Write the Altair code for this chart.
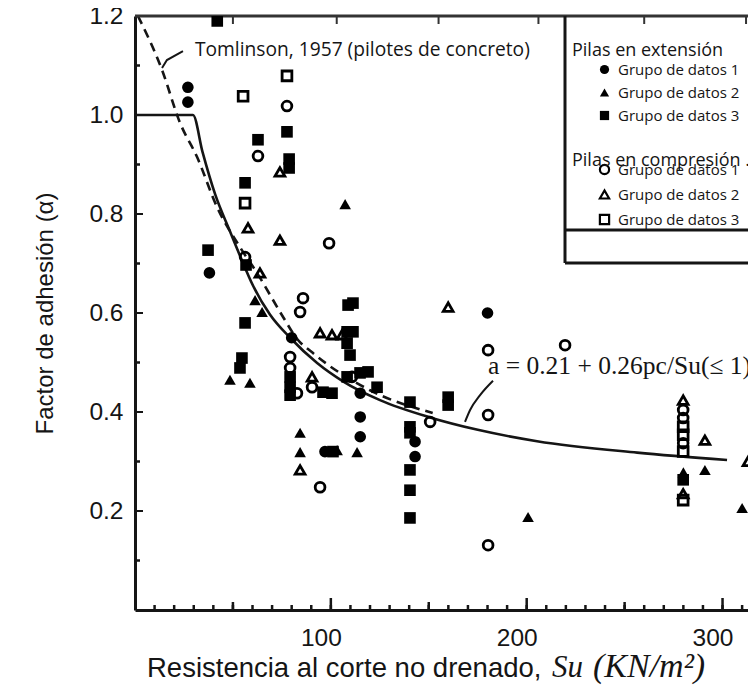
import altair as alt
import pandas as pd

# ---------------- data ----------------
groups = ["Grupo de datos 1", "Grupo de datos 2", "Grupo de datos 3"]

# Pilas en extension (filled markers)
ext1_su = [27, 27, 38, 80, 115, 115, 115, 97, 143, 143, 180]
ext1_a = [1.056, 1.026, 0.681, 0.55, 0.438, 0.39, 0.35, 0.32, 0.34, 0.31, 0.60]
ext2_su = [107.3, 61.3, 64.9, 48.5, 58.7, 84.3, 84.3, 113.4, 103.2, 200.7, 280, 291, 310]
ext2_a = [0.82, 0.626, 0.602, 0.465, 0.459, 0.358, 0.319, 0.319, 0.323, 0.188, 0.278, 0.283, 0.206]
ext3_su = [42, 77.6, 62.8, 78.7, 78.7, 56.2, 37.3, 56.7, 56.2, 108.8, 111.3, 108.3,
           111.3, 108.3, 109.8, 79.2, 79.2, 79.2, 96, 100.6, 108.3, 114.9, 119, 123.6,
           54.6, 53.6, 101.1, 159.9, 159.9, 140.4, 140.4, 140.4, 140.4, 140.4, 140.4, 279.9]
ext3_a = [1.19, 0.966, 0.95, 0.911, 0.893, 0.863, 0.727, 0.697, 0.58, 0.616, 0.62, 0.562,
          0.562, 0.539, 0.515, 0.471, 0.45, 0.434, 0.44, 0.438, 0.471, 0.479, 0.481, 0.45,
          0.509, 0.489, 0.32, 0.43, 0.414, 0.42, 0.37, 0.358, 0.283, 0.242, 0.186, 0.263]

# Pilas en compresion (open markers)
comp1_su = [77.6, 62.8, 99.1, 56.2, 85.8, 84.3, 79.2, 79.2, 82.7, 90.4, 110.8, 94.5,
            180.3, 219.6, 180.3, 150.7, 180.3, 279.9, 279.9, 279.9]
comp1_a = [1.018, 0.917, 0.741, 0.713, 0.63, 0.602, 0.511, 0.489, 0.438, 0.45, 0.471, 0.248,
           0.525, 0.535, 0.394, 0.38, 0.131, 0.404, 0.388, 0.337]
comp2_su = [74, 57.7, 74, 63.8, 94.5, 100.6, 105.7, 90.4, 84.3, 159.9, 279.9, 279.9, 291, 313]
comp2_a = [0.885, 0.772, 0.747, 0.681, 0.56, 0.556, 0.556, 0.471, 0.283, 0.612, 0.424, 0.235, 0.343, 0.30]
comp3_su = [77.6, 55.2, 56.2, 279.9, 279.9, 279.9, 279.9]
comp3_a = [1.079, 1.038, 0.822, 0.37, 0.354, 0.32, 0.222]

# curves
alpha_su = [0, 29.6, 34.5, 40.9, 48.5, 54, 60.3, 68.9, 79.2, 93.0, 106.2, 125.1,
            150.7, 175, 205.3, 256.4, 302.3]
alpha_a = [1.0, 1.0, 0.925, 0.84, 0.765, 0.712, 0.655, 0.597, 0.550, 0.499, 0.462, 0.424,
           0.389, 0.364, 0.341, 0.318, 0.303]
toml_su = [1.5, 13.8, 23.0, 31.7, 41.9, 53.6, 62.3, 75.6, 82.7, 90.9, 120, 152]
toml_a = [1.2, 1.091, 0.984, 0.915, 0.814, 0.733, 0.681, 0.592, 0.548, 0.519, 0.444, 0.398]

# axis ticks
x_labels = [100, 200, 300]
x_minor = [v for v in range(10, 320, 10)]
x_mid = [50, 150, 250]
x_top = [50, 103, 155, 206, 260, 312]
y_labels = [0.2, 0.4, 0.6, 0.8, 1.0, 1.2]
y_minor = [0.1, 0.3, 0.5, 0.7, 0.9, 1.1]

# ---------------- chart ----------------
FONT = "Liberation Sans"
INK = "#151515"
XS = alt.Scale(domain=[0, 313], nice=False, zero=False)
YS = alt.Scale(domain=[0, 1.2], nice=False, zero=False)
W, H = 613, 594


def pts(su, a, g):
    return pd.DataFrame({"su": su, "a": a, "grupo": g})


ext_df = pd.concat([pts(ext1_su, ext1_a, groups[0]), pts(ext2_su, ext2_a, groups[1]),
                    pts(ext3_su, ext3_a, groups[2])])
comp_df = pd.concat([pts(comp1_su, comp1_a, groups[0]), pts(comp2_su, comp2_a, groups[1]),
                     pts(comp3_su, comp3_a, groups[2])])
shape_scale = alt.Scale(domain=groups, range=["circle", "triangle-up", "square"])

x_axis = alt.Axis(values=x_labels, format="d", labelFont=FONT, labelFontSize=24.5, labelColor=INK,
                  tickSize=0, labelPadding=16, labelOffset=-10, domainWidth=3, domainColor=INK,
                  grid=False, title=None)
y_axis = alt.Axis(values=y_labels, format=".1f", labelFont=FONT, labelFontSize=24.5, labelColor=INK,
                  tickSize=0, labelPadding=12, domainWidth=3, domainColor=INK, grid=False,
                  title="Factor de adhesión (α)", titleFont=FONT, titleFontSize=24,
                  titleFontWeight="normal", titleColor=INK, titlePadding=31)


def X(f):
    return alt.X(f, scale=XS, axis=x_axis)


def Y(f):
    return alt.Y(f, scale=YS, axis=y_axis)


alpha_line = alt.Chart(pd.DataFrame({"su": alpha_su, "a": alpha_a})).mark_line(
    color=INK, strokeWidth=2.6, interpolate="monotone"
).encode(x=X("su:Q"), y=Y("a:Q"))

toml_line = alt.Chart(pd.DataFrame({"su": toml_su, "a": toml_a})).mark_line(
    color=INK, strokeWidth=2.6, strokeDash=[9, 6], interpolate="monotone", clip=True
).encode(x=X("su:Q"), y=Y("a:Q"))

common_leg = dict(orient="none", titleFont="Open Sans", titleFontSize=18, titleFontWeight="normal",
                  titleColor=INK, labelFont="Open Sans", labelFontSize=15, labelColor=INK,
                  symbolSize=85, symbolOffset=25, labelOffset=6, rowPadding=7, labelLimit=300)

ext_pts = alt.Chart(ext_df).mark_point(
    filled=True, color="black", opacity=1, size=135, clip=True
).encode(
    x=X("su:Q"), y=Y("a:Q"),
    shape=alt.Shape("grupo:N", scale=shape_scale, legend=alt.Legend(
        title="Pilas en extensión", legendX=437, legendY=26, titlePadding=2,
        symbolFillColor="black", symbolStrokeColor="black", symbolStrokeWidth=0, **common_leg))
)

comp_pts = alt.Chart(comp_df).mark_point(
    filled=False, color="black", strokeWidth=2.8, opacity=1, size=95, clip=True
).encode(
    x=X("su:Q"), y=Y("a:Q"),
    shape=alt.Shape("grupo:N", scale=shape_scale, legend=alt.Legend(
        title="Pilas en compresión .", legendX=437, legendY=136, titlePadding=-8,
        symbolStrokeColor="black", symbolStrokeWidth=2.2, **common_leg))
)

# tick marks drawn inward from the tick arrays
yt_major = alt.Chart(pd.DataFrame({"v": y_labels[:-1]})).mark_rule(color=INK, strokeWidth=2).encode(
    y=Y("v:Q"), x=alt.value(0), x2=alt.value(8))
yt_minor = alt.Chart(pd.DataFrame({"v": y_minor})).mark_rule(color=INK, strokeWidth=2.5).encode(
    y=Y("v:Q"), x=alt.value(0), x2=alt.value(5))
xt_minor = alt.Chart(pd.DataFrame({"v": x_minor})).mark_rule(color=INK, strokeWidth=2.5).encode(
    x=X("v:Q"), y=alt.value(H), y2=alt.value(H - 5))
xt_mid = alt.Chart(pd.DataFrame({"v": x_mid})).mark_rule(color=INK, strokeWidth=2.5).encode(
    x=X("v:Q"), y=alt.value(H), y2=alt.value(H - 8))
xt_major = alt.Chart(pd.DataFrame({"v": x_labels})).mark_rule(color=INK, strokeWidth=2.5).encode(
    x=X("v:Q"), y=alt.value(H), y2=alt.value(H - 12))
xt_top = alt.Chart(pd.DataFrame({"v": x_top})).mark_rule(color="#333", strokeWidth=2).encode(
    x=X("v:Q"), y=alt.value(0), y2=alt.value(8))

top_line = alt.Chart(pd.DataFrame({"v": [1.2]})).mark_rule(color="#333", strokeWidth=3).encode(
    y=Y("v:Q"), x=alt.value(0), x2=alt.value(W))

# legend frame (pixel decorations)
one = pd.DataFrame({"v": [0]})
box_v = alt.Chart(one).mark_rule(color=INK, strokeWidth=3).encode(
    x=alt.value(430), y=alt.value(0), y2=alt.value(247))
box_h1 = alt.Chart(one).mark_rule(color=INK, strokeWidth=3).encode(
    x=alt.value(430), x2=alt.value(W), y=alt.value(214))
box_h2 = alt.Chart(one).mark_rule(color=INK, strokeWidth=3).encode(
    x=alt.value(430), x2=alt.value(W), y=alt.value(247))

# annotations and x title
toml_text = alt.Chart(one).mark_text(
    text="Tomlinson, 1957 (pilotes de concreto)", font="Open Sans", fontSize=19.2, color=INK,
    align="left", baseline="middle").encode(x=alt.value(60), y=alt.value(34))
toml_lead = alt.Chart(pd.DataFrame({"su": [13.8, 16.3, 24.5], "a": [1.095, 1.111, 1.129]})).mark_line(
    color=INK, strokeWidth=2).encode(x=X("su:Q"), y=Y("a:Q"))
eq_text = alt.Chart(one).mark_text(
    text="a = 0.21 + 0.26pc/Su(≤ 1)", font="Liberation Serif", fontSize=25.5,
    color=INK, align="left", baseline="middle").encode(x=alt.value(353), y=alt.value(350))
eq_lead = alt.Chart(pd.DataFrame({"su": [182.8, 176.2, 171.1, 168.5], "a": [0.463, 0.434, 0.404, 0.38]})).mark_line(
    color=INK, strokeWidth=2, interpolate="monotone").encode(x=X("su:Q"), y=Y("a:Q"))
xt_sans = alt.Chart(one).mark_text(
    text="Resistencia al corte no drenado,", font=FONT, fontSize=27.5, color=INK,
    align="left", baseline="middle").encode(x=alt.value(12), y=alt.value(653))
xt_su = alt.Chart(one).mark_text(
    text="Su", font="Liberation Serif", fontSize=31, fontStyle="italic", color=INK,
    align="left", baseline="middle").encode(x=alt.value(417), y=alt.value(652))
xt_unit = alt.Chart(one).mark_text(
    text="(KN/m²)", font="Liberation Serif", fontSize=34, fontStyle="italic", color=INK,
    align="left", baseline="middle").encode(x=alt.value(458), y=alt.value(651))

chart = alt.layer(
    alpha_line, toml_line, yt_major, yt_minor, xt_minor, xt_mid, xt_major, xt_top, top_line,
    box_v, box_h1, box_h2, toml_text, toml_lead, eq_text, eq_lead, xt_sans, xt_su, xt_unit,
    ext_pts, comp_pts
).resolve_scale(shape="independent").properties(
    width=W, height=H,
    autosize=alt.AutoSizeParams(type="none"),
    padding={"left": 127, "top": 8, "right": 0, "bottom": 86},
    background="white",
).configure_view(strokeWidth=0)

chart.save("out.html", embed_options={"renderer": "svg", "actions": False})
